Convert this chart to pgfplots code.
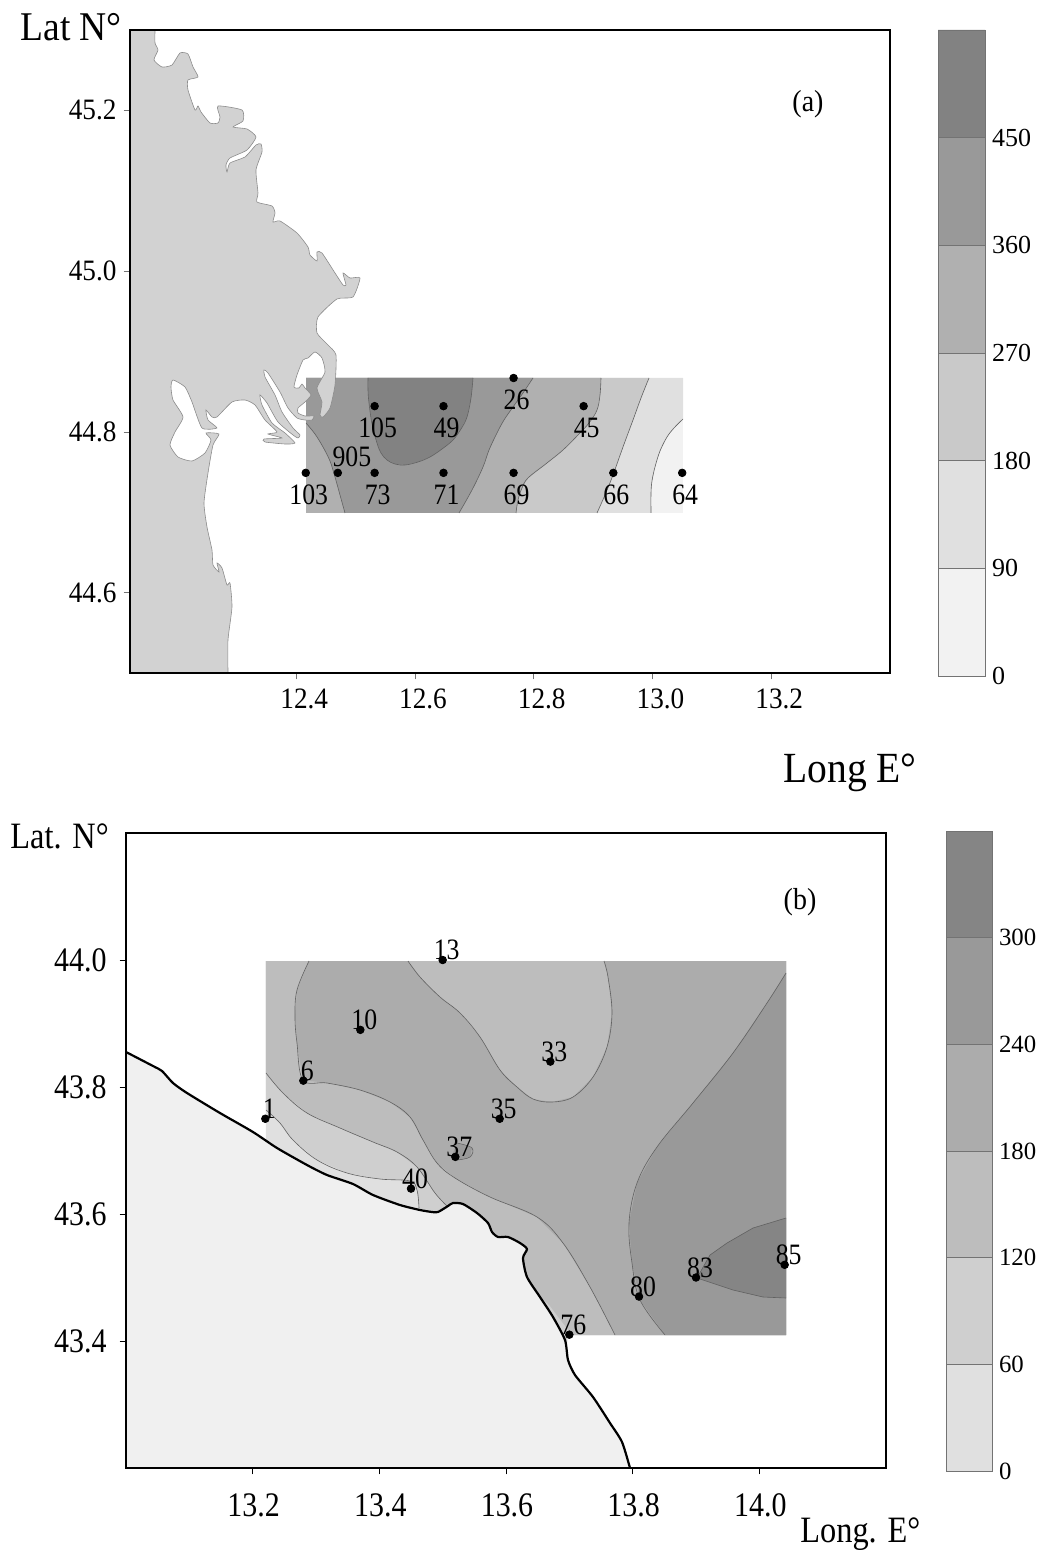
\documentclass[border=0pt]{standalone}
\usepackage{pgfplots}
\pgfplotsset{compat=1.18}
\usepackage{fontspec}
\setmainfont{Liberation Serif}
\newfontfamily\fa[FakeStretch=0.92]{Liberation Serif}
\newfontfamily\fb[FakeStretch=0.87]{Liberation Serif}
\definecolor{landa}{gray}{0.825}
\definecolor{landb}{gray}{0.94}
\definecolor{cf}{gray}{0.95}
\definecolor{ce}{gray}{0.88}
\definecolor{cd}{gray}{0.79}
\definecolor{cc}{gray}{0.69}
\definecolor{cb}{gray}{0.60}
\definecolor{ca}{gray}{0.51}
\definecolor{bd}{gray}{0.88}
\definecolor{bc}{gray}{0.81}
\definecolor{bb}{gray}{0.74}
\definecolor{ba}{gray}{0.675}
\definecolor{b9}{gray}{0.60}
\definecolor{b8}{gray}{0.52}
\pgfplotsset{
 pxa/.style={x filter/.expression={12.12+(x-130)*1.28/760}, y filter/.expression={44.5+(673-y)*0.8/643}},
 pxb/.style={x filter/.expression={13+(x-126)*1.2/760}, y filter/.expression={43.2+(1468-y)*1/635}},
 reg/.style={fill=#1, draw=none, forget plot},
 iso/.style={draw=black!62, line width=0.3pt, smooth, tension=0.6, no marks, forget plot},
 bar/.style={fill=#1, draw=black!55, line width=0.3pt, forget plot},
 stn/.style={only marks, mark=*, mark size=1.9pt, black, nodes near coords, point meta=explicit symbolic},
 cbar/.style={scale only axis, xmin=0, xmax=1, xtick=\empty, axis line style={draw=none},
   clip=false, tick style={draw=none}, ytick pos=right, yticklabel pos=right},
}
\begin{document}
\begin{tikzpicture}
\path[use as bounding box] (0,0) rectangle (520.5pt,-775pt);

% ---------- panel (a)
\begin{axis}[at={(65pt,-15pt)}, anchor=north west, scale only axis, width=380pt, height=321.5pt,
  xmin=12.12, xmax=13.4, ymin=44.5, ymax=45.3, axis on top,
  xtick={12.4,12.6,12.8,13.0,13.2}, ytick={44.6,44.8,45.0,45.2},
  tick align=outside, xtick pos=bottom, ytick pos=left, major tick length=3.2pt,
  tick style={draw=black!55, line width=0.3pt},
  axis line style={line width=0.8pt},
  tick label style={font=\fa\fontsize{14.8}{16}\selectfont},
  xticklabel style={xshift=4pt, yshift=-1pt},
  /pgf/number format/.cd, fixed, fixed zerofill, precision=1, assume math mode=true,
  /tikz/.cd]
% contour regions, digitised in picture pixels
\addplot[pxa, reg=cf] coordinates {(306,378)(683,378)(683,513)(306,513)};
\addplot[pxa, reg=ce] coordinates {(306,378)(683,378)(683,419)(674,428)(667,437)(660,451)(655,467)(652,481)(651,493)(651,513)(306,513)};
\addplot[pxa, reg=cd] coordinates {(306,378)(649,378)(641,398)(633,420)(623,447)(613,475)(605,495)(597,513)(306,513)};
\addplot[pxa, reg=cc] coordinates {(306,378)(601,378)(600,395)(597,410)(589,423)(578,435)(563,450)(547,463)(528,478)(522,488)(518,500)(516,513)(306,513)};
\addplot[pxa, reg=cb] coordinates {(306,378)(533,378)(523,393)(513,407)(504,420)(497,433)(489,450)(483,467)(472,490)(459,513)(345,513)(340,495)(335,477)(330,461)(323,447)(315,434)(306,423)};
\addplot[pxa, reg=ca] coordinates {(368,378)(368,390)(369,403)(372,424)(377,443)(381,453)(387,460)(395,464)(405,465)(418,462)(430,457)(442,449)(453,440)(461,429)(467,417)(471,398)(473,378)};
\addplot[pxa, iso] coordinates {(683,419)(674,428)(667,437)(660,451)(655,467)(652,481)(651,493)(651,513)};
\addplot[pxa, iso] coordinates {(649,378)(641,398)(633,420)(623,447)(613,475)(605,495)(597,513)};
\addplot[pxa, iso] coordinates {(601,378)(600,395)(597,410)(589,423)(578,435)(563,450)(547,463)(528,478)(522,488)(518,500)(516,513)};
\addplot[pxa, iso] coordinates {(533,378)(523,393)(513,407)(504,420)(497,433)(489,450)(483,467)(472,490)(459,513)};
\addplot[pxa, iso] coordinates {(345,513)(340,495)(335,477)(330,461)(323,447)(315,434)(306,423)};
\addplot[pxa, iso] coordinates {(368,378)(368,390)(369,403)(372,424)(377,443)(381,453)(387,460)(395,464)(405,465)(418,462)(430,457)(442,449)(453,440)(461,429)(467,417)(471,398)(473,378)};
% land
\addplot[pxa, fill=landa, draw=black!45, line width=0.3pt, smooth, tension=0.35, forget plot] coordinates {
(110,10)(155,10)(155,30)(155,43)(158,50)(154,60)(162,67)(172,65)(180,53)(188,54)(193,67)(198,77)(188,80)(188,90)(195,110)(198,106)(201,112)(210,123)(218,123)(220,117)(218,106)(242,110)(243,121)(233,127)(247,129)(256,137)(247,150)(230,158)(226,165)(227,172)(230,163)(245,157)(256,145)(261,144)(262,152)(256,170)(258,193)(257,202)(272,206)(275,213)(273,222)(280,221)(297,233)(308,247)(310,255)(317,261)(317,252)(322,253)(335,273)(343,285)(346,285)(343,273)(350,278)(360,278)(353,297)(337,299)(318,317)(317,333)(328,345)(336,355)(335,385)(330,408)(323,417)(320,415)(322,402)(317,388)(325,372)(322,358)(315,352)(308,358)(303,360)(297,375)(294,387)(299,388)(302,384)(305,388)(311,395)(305,402)(298,408)(298,413)(305,416)(314,416)(312,420)(305,420)(297,418)(288,408)(280,392)(268,373)(264,370)(265,377)(275,395)(282,412)(293,428)(300,435)(298,438)(293,435)(278,422)(267,403)(260,395)(262,405)(272,423)(285,433)(295,443)(285,444)(265,442)(264,439)(282,438)(268,434)(277,432)(265,420)(255,405)(245,400)(232,402)(217,417)(212,417)(206,410)(208,420)(217,428)(202,428)(192,402)(185,387)(173,380)(171,387)(173,400)(183,417)(175,432)(170,445)(178,457)(192,461)(205,453)(211,440)(206,433)(219,434)(213,445)(208,473)(204,503)(207,527)(212,550)(213,565)(219,572)(217,563)(222,568)(227,585)(230,583)(232,607)(228,640)(228,673)(228,690)(110,690)(110,10)};
% stations
\addplot[stn, nodes near coords style={anchor=center, font=\fb\fontsize{14.8}{15}\selectfont, xshift=1.5pt, yshift=-11pt}]
 table[x=lon, y=lat, meta=st] {
lon lat st
12.416 44.749 103
12.532 44.749 73
12.648 44.749 71
12.766 44.749 69
12.934 44.749 66
13.050 44.749 64
12.532 44.832 105
12.648 44.832 49
12.884 44.832 45
12.766 44.867 26
};
\addplot[stn, nodes near coords style={anchor=center, font=\fb\fontsize{14.8}{15}\selectfont, xshift=7pt, yshift=8pt}]
 table[x=lon, y=lat, meta=st] {
lon lat st
12.470 44.749 905
};
\end{axis}

% colour bar (a)
\begin{axis}[cbar, at={(469pt,-15pt)}, anchor=north west, width=23.5pt, height=323pt, ymin=0, ymax=540,
  ytick={0,90,180,270,360,450}, tick label style={font=\fontsize{13}{15}\selectfont},
  /pgf/number format/assume math mode=true]
\addplot[bar=cf] coordinates {(0,0)(1,0)(1,90)(0,90)(0,0)};
\addplot[bar=ce] coordinates {(0,90)(1,90)(1,180)(0,180)(0,90)};
\addplot[bar=cd] coordinates {(0,180)(1,180)(1,270)(0,270)(0,180)};
\addplot[bar=cc] coordinates {(0,270)(1,270)(1,360)(0,360)(0,270)};
\addplot[bar=cb] coordinates {(0,360)(1,360)(1,450)(0,450)(0,360)};
\addplot[bar=ca] coordinates {(0,450)(1,450)(1,540)(0,540)(0,450)};
\end{axis}

% ---------- panel (b)
\begin{axis}[at={(63pt,-416.5pt)}, anchor=north west, scale only axis, width=380pt, height=317.5pt,
  xmin=13, xmax=14.2, ymin=43.2, ymax=44.2, axis on top,
  xtick={13.2,13.4,13.6,13.8,14.0}, ytick={43.4,43.6,43.8,44.0},
  tick align=outside, xtick pos=bottom, ytick pos=left, major tick length=3.2pt,
  tick style={draw=black, line width=0.5pt},
  axis line style={line width=0.8pt},
  tick label style={font=\fb\fontsize{17.2}{18}\selectfont},
  xticklabel style={xshift=0.5pt, yshift=-6pt},
  yticklabel style={xshift=-3pt},
  /pgf/number format/.cd, fixed, fixed zerofill, precision=1, assume math mode=true,
  /tikz/.cd]
\addplot[pxb, reg=bd] coordinates {(266,961)(786,961)(786,1335)(560,1335)(440,1220)(300,1170)(266,1145)};
\addplot[pxb, reg=bc] coordinates {(266,961)(786,961)(786,1335)(560,1335)(440,1215)(419,1208)(417,1190)(410,1181)(380,1179)(347,1173)(317,1160)(293,1140)(280,1123)(266,1110)};
\addplot[pxb, reg=bb] coordinates {(266,961)(786,961)(786,1335)(560,1335)(450,1215)(447,1206)(435,1193)(417,1167)(397,1152)(373,1142)(340,1128)(307,1113)(283,1093)(266,1073)};
\addplot[pxb, reg=bc] coordinates {(538,1295)(549,1305)(568,1330)(567,1345)(530,1300)};
\addplot[pxb, reg=ba] coordinates {(309,961)(297,990)(295,1017)(297,1043)(303,1080)(327,1083)(360,1090)(390,1102)(410,1117)(423,1140)(437,1163)(455,1178)(490,1197)(537,1217)(563,1243)(590,1287)(615,1335)(786,1335)(786,961)(604,961)(608,977)(612,1013)(607,1047)(593,1077)(573,1097)(552,1102)(533,1099)(517,1087)(500,1070)(480,1037)(460,1013)(440,997)(420,977)(408,961)};
\addplot[pxb, reg=b9] coordinates {(786,973)(767,1003)(733,1053)(693,1103)(657,1147)(637,1183)(629,1223)(632,1263)(640,1300)(665,1335)(786,1335)};
\addplot[pxb, reg=b8] coordinates {(786,1218)(753,1228)(727,1243)(710,1255)(697,1278)(733,1290)(763,1297)(786,1298)};
\addplot[pxb, reg=b9] coordinates {(457,1143)(472,1148)(470,1157)(457,1160)(453,1153)};
\addplot[pxb, iso] coordinates {(266,1110)(280,1123)(293,1140)(317,1160)(347,1173)(380,1179)(410,1181)(417,1190)(419,1208)};
\addplot[pxb, iso] coordinates {(266,1073)(283,1093)(307,1113)(340,1128)(373,1142)(397,1152)(417,1167)(435,1193)(447,1206)};
\addplot[pxb, iso] coordinates {(309,961)(297,990)(295,1017)(297,1043)(303,1080)(327,1083)(360,1090)(390,1102)(410,1117)(423,1140)(437,1163)(455,1178)(490,1197)(537,1217)(563,1243)(590,1287)(615,1335)};
\addplot[pxb, iso] coordinates {(604,961)(608,977)(612,1013)(607,1047)(593,1077)(573,1097)(552,1102)(533,1099)(517,1087)(500,1070)(480,1037)(460,1013)(440,997)(420,977)(408,961)};
\addplot[pxb, iso] coordinates {(786,973)(767,1003)(733,1053)(693,1103)(657,1147)(637,1183)(629,1223)(632,1263)(640,1300)(665,1335)};
\addplot[pxb, draw=black!62, line width=0.3pt, no marks, forget plot] coordinates {(786,1218)(753,1228)(727,1243)(710,1255)(697,1278)(733,1290)(763,1297)(786,1298)};
\addplot[pxb, iso] coordinates {(457,1143)(472,1148)(470,1157)(457,1160)};
% land and coast
\addplot[pxb, fill=landb, draw=none, smooth, tension=0.4, forget plot] coordinates {(110,1044)(126,1052)(153,1066)(162,1071)(173,1083)(187,1093)(220,1113)(253,1132)(277,1148)(307,1165)(327,1175)(353,1184)(373,1195)(400,1205)(420,1210)(432,1212)(438,1212)(448,1206)(453,1203)(463,1204)(477,1213)(488,1223)(492,1232)(498,1237)(508,1237)(520,1243)(527,1249)(523,1258)(527,1277)(540,1297)(553,1317)(565,1340)(568,1360)(575,1375)(593,1397)(610,1423)(622,1442)(630,1468)(632,1490)(110,1490)(110,1044)};
\addplot[pxb, draw=black, line width=1.1pt, line join=round, smooth, tension=0.4, no marks, forget plot] coordinates {(126,1052)(153,1066)(162,1071)(173,1083)(187,1093)(220,1113)(253,1132)(277,1148)(307,1165)(327,1175)(353,1184)(373,1195)(400,1205)(420,1210)(432,1212)(438,1212)(448,1206)(453,1203)(463,1204)(477,1213)(488,1223)(492,1232)(498,1237)(508,1237)(520,1243)(527,1249)(523,1258)(527,1277)(540,1297)(553,1317)(565,1340)(568,1360)(575,1375)(593,1397)(610,1423)(622,1442)(630,1468)};
% stations
\addplot[stn, nodes near coords style={anchor=center, font=\fb\fontsize{14.8}{15}\selectfont, xshift=2pt, yshift=5pt}]
 table[x=lon, y=lat, meta=st] {
lon lat st
13.22 43.75 1
13.28 43.81 6
13.37 43.89 10
13.50 44.00 13
13.67 43.84 33
13.59 43.75 35
13.52 43.69 37
13.45 43.64 40
13.70 43.41 76
13.81 43.47 80
13.90 43.50 83
14.04 43.52 85
};
\end{axis}

% colour bar (b)
\begin{axis}[cbar, at={(473pt,-415.5pt)}, anchor=north west, width=23pt, height=320pt, ymin=0, ymax=360,
  ytick={0,60,120,180,240,300}, tick label style={font=\fontsize{12.4}{15}\selectfont},
  /pgf/number format/assume math mode=true]
\addplot[bar=bd] coordinates {(0,0)(1,0)(1,60)(0,60)(0,0)};
\addplot[bar=bc] coordinates {(0,60)(1,60)(1,120)(0,120)(0,60)};
\addplot[bar=bb] coordinates {(0,120)(1,120)(1,180)(0,180)(0,120)};
\addplot[bar=ba] coordinates {(0,180)(1,180)(1,240)(0,240)(0,180)};
\addplot[bar=b9] coordinates {(0,240)(1,240)(1,300)(0,300)(0,240)};
\addplot[bar=b8] coordinates {(0,300)(1,300)(1,360)(0,360)(0,300)};
\end{axis}

% texts
\node[anchor=base west, inner sep=0, font=\fa\fontsize{20.4}{22}\selectfont] at (10pt,-20.5pt) {Lat N°};
\node[anchor=base west, inner sep=0, font=\fa\fontsize{21.5}{23}\selectfont] at (391.5pt,-391pt) {Long E°};
\node[anchor=base west, inner sep=0, font=\fb\fontsize{18.6}{20}\selectfont] at (5pt,-424pt) {Lat. N°};
\node[anchor=base west, inner sep=0, font=\fb\fontsize{18.6}{20}\selectfont] at (400pt,-771pt) {Long. E°};
\node[anchor=center, font=\fa\fontsize{15.2}{17}\selectfont] at (404pt,-52pt) {(a)};
\node[anchor=center, font=\fa\fontsize{15.2}{17}\selectfont] at (400pt,-451pt) {(b)};
\end{tikzpicture}
\end{document}
